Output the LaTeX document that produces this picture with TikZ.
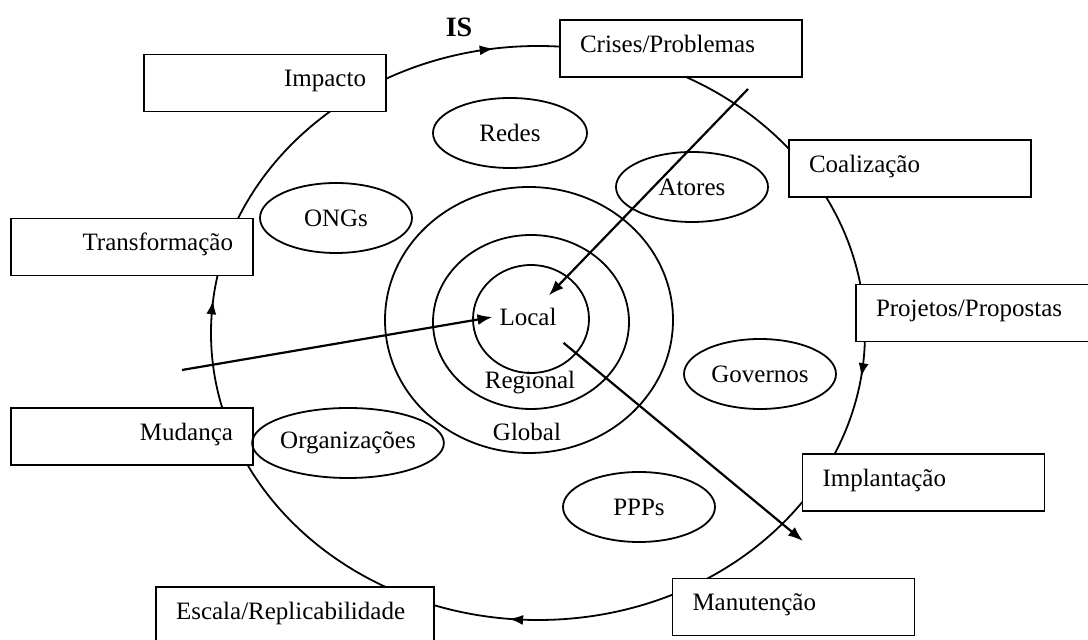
\documentclass[tikz,border=0pt]{standalone}
\usepackage{fontspec}
\setmainfont{Liberation Serif}
\usetikzlibrary{%
	arrows.meta,%
	shapes,%
	decorations.markings
}
\tikzstyle{caixa}=[draw, fill=white, line width=0.8pt, minimum width=121pt, minimum height=28.5pt, inner xsep=10pt, text width=101pt, text height=9pt, text depth=5pt]
\tikzstyle{bolha}=[draw, ellipse, line width=0.9pt, minimum width=76pt, minimum height=35pt, inner sep=0pt]
\tikzstyle{anel}=[draw, ellipse, line width=0.9pt, inner sep=0pt]
\tikzstyle{seta}=[draw, line width=1.1pt, -{Latex[length=7.5pt,width=5.5pt]}]

\begin{document}
\begin{tikzpicture}[x=0.5pt, y=-0.5pt, font=\fontsize{12.5}{15}\selectfont]
				\useasboundingbox (0,0) rectangle (1088,640);
				\clip (0,0) rectangle (1088,640);
				
				% ciclo
				\draw[line width=0.9pt, postaction={decorate}, decoration={markings,
					mark=at position 0.273 with {\arrowreversed{Latex[length=7pt,width=5pt]}},
					mark=at position 0.483 with {\arrowreversed{Latex[length=7pt,width=5pt]}},
					mark=at position 0.735 with {\arrowreversed{Latex[length=7pt,width=5pt]}},
					mark=at position 0.977 with {\arrowreversed{Latex[length=7pt,width=5pt]}}}]
					(538,333) ellipse [x radius=163.5pt, y radius=143.5pt];
				\node[font=\bfseries\fontsize{14}{16}\selectfont] (is) at (459,27) {IS};
				
				% etapas
				\node[caixa, align=right] (impacto) at (265,83) {Impacto};
				\node[caixa, align=left] (crises) at (681,48.5) {Crises/Problemas};
				\node[caixa, align=left] (coalizacao) at (910,168.5) {Coalização};
				\node[caixa, align=left] (projetos) at (977,313) {Projetos/Propostas};
				\node[caixa, align=left] (implantacao) at (923.5,482.5) {Implantação};
				\node[caixa, align=left] (manutencao) at (793.5,607) {Manutenção};
				\node[caixa, align=left, minimum width=139pt, text width=119pt] (escala) at (295,615.5) {Escala/Replicabilidade};
				\node[caixa, align=right] (mudanca) at (132,436.5) {Mudança};
				\node[caixa, align=right] (transformacao) at (132,247) {Transformação};
				
				% atores
				\node[bolha, minimum width=77pt] (redes) at (510,133) {Redes};
				\node[bolha] (ongs) at (336,218) {ONGs};
				\node[bolha] (atores) at (692,187) {Atores};
				\node[bolha] (governos) at (760,374) {Governos};
				\node[bolha, minimum width=86pt] (organizacoes) at (348,443) {Organizações};
				\node[bolha] (ppps) at (639,507) {PPPs};
				
				% niveis
				\node[anel, minimum width=58pt, minimum height=54pt] (anelLocal) at (531,319) {};
				\node[anel, minimum width=98pt, minimum height=87pt] (anelRegional) at (531,322) {};
				\node[anel, minimum width=144pt, minimum height=133pt] (anelGlobal) at (529,320) {};
				\node (local) at (528,317) {Local};
				\node (regional) at (530,383) {Regional};
				\node (global) at (527,432) {Global};
				
				% setas
				\coordinate (origem1) at (748,89);
				\coordinate (origem2) at (182,370);
				\coordinate (destino3) at (803,541);
				\draw[seta, shorten >=4pt] (origem1) -- (local);
				\draw[seta] (origem2) -- (local.west);
				\draw[seta] ([yshift=-5pt]local.south east) -- (destino3);
			\end{tikzpicture}
\end{document}
